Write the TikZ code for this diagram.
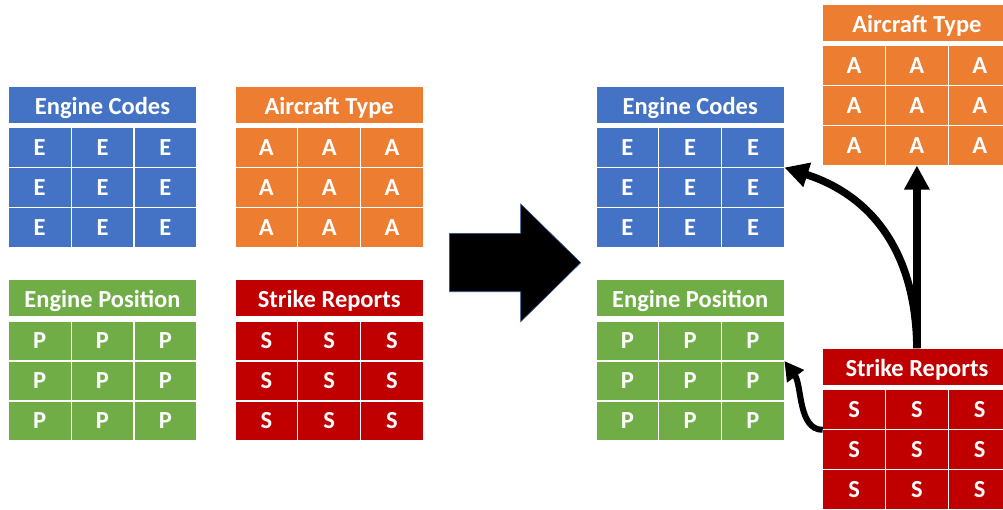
\documentclass[tikz,border=0pt]{standalone}
\usepackage{fontspec}
\setmainfont{Carlito}
\usetikzlibrary{arrows.meta}

\definecolor{tblue}{HTML}{4472C4}
\definecolor{torange}{HTML}{ED7D31}
\definecolor{tgreen}{HTML}{70AD47}
\definecolor{tred}{HTML}{C00000}
\definecolor{arrowedge}{HTML}{2F528F}

\tikzset{
  tabletext/.style={text=white, text depth=0pt,
    font=\fontsize{24.5}{24.5}\selectfont\bfseries},
  hdr/.style={tabletext, text height=18.5pt, draw=white, line width=1.2pt,
    minimum width=188.4pt, minimum height=37.5pt,
    inner sep=0pt, outer sep=0pt, anchor=north west},
  cellbox/.style={tabletext, text height=15.5pt, draw=white, line width=1.2pt,
    minimum width=62.8pt, minimum height=40pt,
    inner sep=0pt, outer sep=0pt, anchor=north west},
  link/.style={line width=7.5pt, -{Triangle[length=24pt,width=24pt]}},
  smalllink/.style={line width=6pt, -{Triangle[length=19pt,width=20pt]}},
}

% #1 name, #2 left, #3 top, #4 title, #5 cell letter, #6 colour
\newcommand\datatable[6]{%
  \node[hdr, fill=#6] (#1-h) at (#2,#3) {#4};
  \foreach \r in {1,2,3}{
    \foreach \c in {1,2,3}{
      \node[cellbox, fill=#6] (#1-\r-\c) at ({#2+(\c-1)*62.8},{#3+41.5+(\r-1)*40}) {#5};
    }
  }%
}

\begin{document}
\begin{tikzpicture}[x=1pt,y=-1pt]
  \useasboundingbox (0,0) rectangle (1003,509);

  % separate tables
  \datatable{ecA}{8.3}{86}{Engine Codes}{E}{tblue}
  \datatable{atA}{235}{86}{Aircraft Type}{A}{torange}
  \datatable{epA}{8.3}{279.5}{Engine Position}{P}{tgreen}
  \datatable{srA}{235}{279.5}{Strike Reports}{S}{tred}

  % block arrow
  \draw[fill=black, draw=arrowedge, line width=0.6pt]
    (449.3,233.3) -- (520.7,233.3) -- (520.7,204) -- (580.7,262.7)
    -- (520.7,321.7) -- (520.7,291.7) -- (449.3,291.7) -- cycle;

  % linked tables
  \datatable{ecB}{596}{86}{Engine Codes}{E}{tblue}
  \datatable{epB}{596}{279.5}{Engine Position}{P}{tgreen}
  \datatable{atB}{822.7}{4}{Aircraft Type}{A}{torange}
  \datatable{srB}{822.7}{348.3}{Strike Reports}{S}{tred}

  % references from strike reports
  \draw[link] (srB-h.north) -- (atB-3-2.south);
  \draw[link] (srB-h.north) .. controls (916,250) and (870,195) .. (ecB-1-3.south east);
  \draw[smalllink] (srB-1-1.south west) .. controls (798,430) and (802,385) .. (epB-1-3.south east);
\end{tikzpicture}
\end{document}
